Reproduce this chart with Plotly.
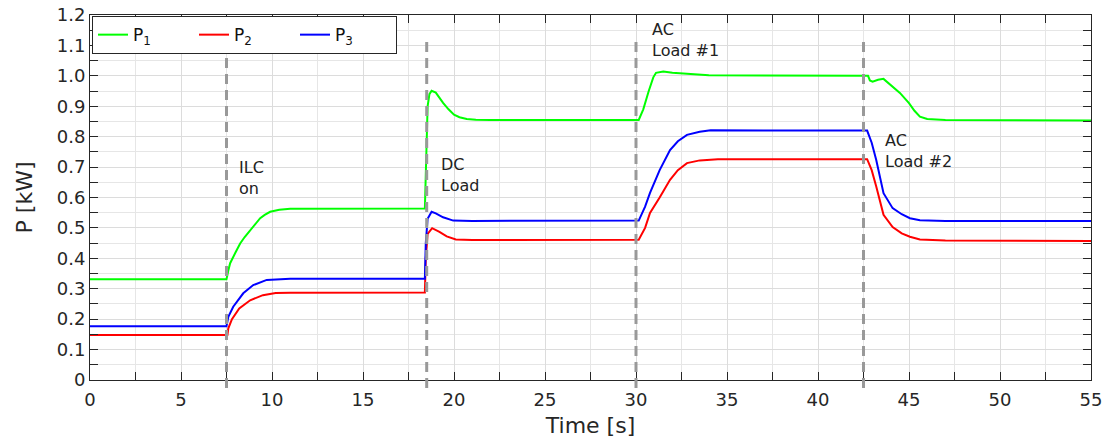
import plotly.graph_objects as go

# ---- data ----
t1 = [0, 7.5, 7.6, 7.7, 8.0, 8.25, 8.5, 8.8, 9.0, 9.35, 9.6, 9.9, 10.4, 11.0, 18.4, 18.45, 18.55, 18.65, 18.77, 19.0, 19.4, 19.7, 20.0, 20.3, 20.7, 21.2, 22.0,
      30.15, 30.4, 30.7, 30.95, 31.1, 31.5, 32.0, 33.0, 34.0, 42.75, 42.85, 43.0, 43.3, 43.6, 44.0, 44.5, 45.0, 45.3, 45.6, 46.0, 47.0, 55.0]
p1 = [0.331, 0.331, 0.36, 0.384, 0.42, 0.449, 0.47, 0.493, 0.505, 0.532, 0.543, 0.553, 0.56, 0.563, 0.564, 0.70, 0.90, 0.94, 0.951, 0.945, 0.911, 0.89, 0.872, 0.864, 0.858, 0.856, 0.855,
      0.855, 0.89, 0.95, 0.995, 1.01, 1.014, 1.01, 1.005, 1.002, 1.0, 0.985, 0.981, 0.987, 0.99, 0.97, 0.944, 0.91, 0.885, 0.866, 0.858, 0.855, 0.853]

t2 = [0, 7.55, 7.6, 7.8, 8.2, 8.8, 9.5, 10.2, 11.0, 18.4, 18.45, 18.55, 18.8, 19.2, 19.6, 20.1, 21.0,
      30.15, 30.5, 30.77, 31.3, 31.87, 32.3, 32.8, 33.5, 34.5, 42.7, 42.95, 43.2, 43.6, 44.1, 44.6, 45.05, 45.6, 47.0, 55.0]
p2 = [0.148, 0.148, 0.17, 0.20, 0.235, 0.262, 0.279, 0.286, 0.287, 0.288, 0.40, 0.48, 0.499, 0.487, 0.472, 0.462, 0.46,
      0.461, 0.50, 0.549, 0.60, 0.658, 0.69, 0.713, 0.722, 0.726, 0.726, 0.69, 0.636, 0.543, 0.503, 0.482, 0.471, 0.462, 0.459, 0.457]

t3 = [0, 7.5, 7.6, 7.87, 8.42, 8.97, 9.71, 10.44, 11.0, 18.4, 18.45, 18.55, 18.77, 19.0, 19.4, 19.96, 21.0,
      30.15, 30.5, 30.77, 31.3, 31.87, 32.3, 32.8, 33.5, 34.1, 42.7, 42.95, 43.2, 43.6, 44.1, 44.6, 45.05, 45.6, 47.0, 55.0]
p3 = [0.177, 0.177, 0.208, 0.241, 0.285, 0.312, 0.329, 0.332, 0.333, 0.333, 0.45, 0.53, 0.553, 0.548, 0.535, 0.524, 0.523,
      0.524, 0.57, 0.615, 0.69, 0.756, 0.785, 0.806, 0.816, 0.821, 0.82, 0.78, 0.723, 0.614, 0.565, 0.545, 0.532, 0.525, 0.523, 0.523]

series_names = ["P<sub>1</sub>", "P<sub>2</sub>", "P<sub>3</sub>"]
series_colors = ["#00ff00", "#ff0000", "#0000ff"]

event_times = [7.5, 18.5, 30, 42.5]
event_labels = ["ILC<br>on", "DC<br>Load", "AC<br>Load #1", "AC<br>Load #2"]
label_x = [8.05, 19.15, 30.75, 43.55]
label_y = [0.735, 0.745, 1.19, 0.825]

x_ticks = [0, 5, 10, 15, 20, 25, 30, 35, 40, 45, 50, 55]
y_ticks = [0, 0.1, 0.2, 0.3, 0.4, 0.5, 0.6, 0.7, 0.8, 0.9, 1.0, 1.1, 1.2]
y_tick_text = ["0", "0.1", "0.2", "0.3", "0.4", "0.5", "0.6", "0.7", "0.8", "0.9", "1.0", "1.1", "1.2"]

FONT = "DejaVu Sans"
TXT = "#262626"

fig = go.Figure()
for t, p, n, c in zip([t1, t2, t3], [p1, p2, p3], series_names, series_colors):
    fig.add_trace(go.Scatter(x=t, y=p, mode="lines", name=n,
                             line=dict(color=c, width=2)))

for et in event_times:
    fig.add_shape(type="line", xref="x", yref="paper", x0=et, x1=et, y0=-0.022, y1=0.935,
                  line=dict(color="#999999", width=3, dash="10px,6px"), layer="above")

for lx, ly, txt in zip(label_x, label_y, event_labels):
    fig.add_annotation(x=lx, y=ly, xref="x", yref="y", text=txt, showarrow=False,
                       xanchor="left", yanchor="top", align="left",
                       font=dict(family=FONT, size=16, color="#222222"))

axis_common = dict(
    showline=True, linecolor=TXT, linewidth=1, mirror="allticks",
    ticks="inside", ticklen=8, tickcolor=TXT, automargin=False,
    ticklabeloverflow="allow",
    showgrid=True, gridcolor="#dcdcdc", gridwidth=1, zeroline=False,
    tickfont=dict(family=FONT, size=18, color=TXT),
)

fig.update_xaxes(range=[0, 55], tickvals=x_ticks, ticklabelstandoff=3,
                 minor=dict(dtick=2.5, ticks="inside", ticklen=8, tickcolor=TXT,
                            showgrid=True, gridcolor="#e6e6e6"),
                 title=dict(text="Time [s]", font=dict(family=FONT, size=22, color=TXT), standoff=9),
                 **axis_common)
fig.update_yaxes(range=[0, 1.2], tickvals=y_ticks, ticktext=y_tick_text,
                 minor=dict(dtick=0.05, ticks="inside", ticklen=8, tickcolor=TXT,
                            showgrid=True, gridcolor="#e6e6e6"),
                 title=dict(text="P [kW]", font=dict(family=FONT, size=22, color=TXT), standoff=18),
                 **axis_common)

fig.update_layout(
    width=1112, height=445,
    margin=dict(l=90, r=21, t=15, b=65),
    plot_bgcolor="white", paper_bgcolor="white",
    showlegend=True,
    legend=dict(x=0.002, y=0.997, xanchor="left", yanchor="top", orientation="h",
                bgcolor="white", bordercolor=TXT, borderwidth=1,
                font=dict(family=FONT, size=17, color="#111111"),
                tracegroupgap=0, itemwidth=30, entrywidth=56, entrywidthmode="pixels"),
)

# remove the default 8px page margin so the figure fills the window exactly
fig.write_html("out.html", config={"displayModeBar": False},
               post_script="document.body.style.margin='0';")
